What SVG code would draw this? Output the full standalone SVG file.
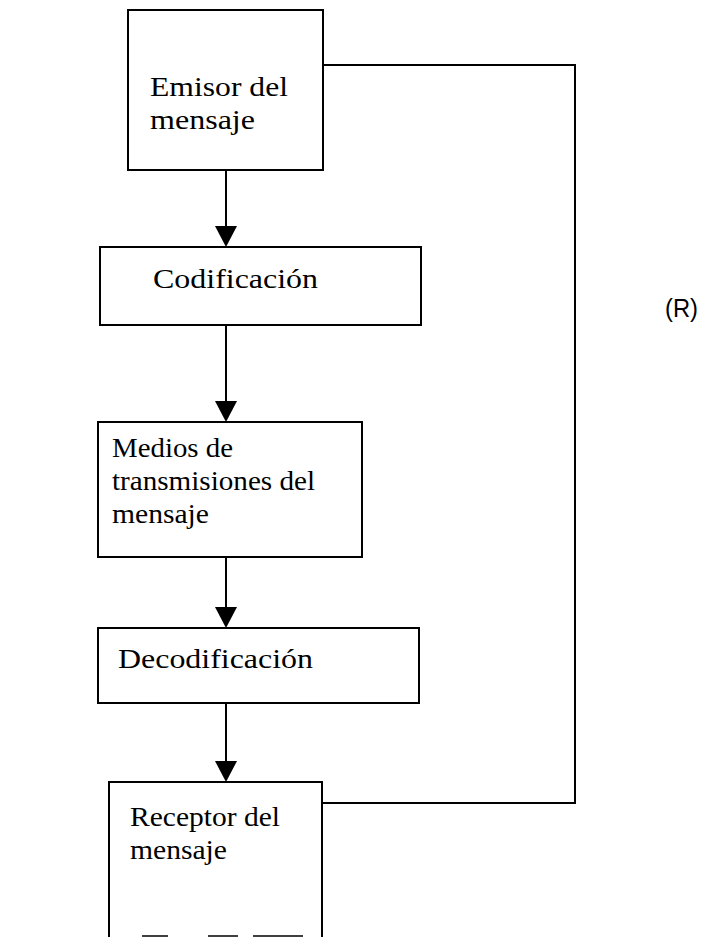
<svg xmlns="http://www.w3.org/2000/svg" width="704" height="937" viewBox="0 0 704 937">
<defs>
<style>
.box{fill:#fff;stroke:#000;stroke-width:2}
.t{font-family:"Liberation Serif","Times New Roman",serif;font-size:28px;fill:#000}
.c{fill:none;stroke:#000;stroke-width:2}
.h{fill:#000;stroke:none}
</style>
</defs>
<rect width="704" height="937" fill="#fff"/>
<g id="connectors">
<line class="c" x1="226" y1="170" x2="226" y2="230"/>
<path class="h" d="M215,226 L237,226 L226,247 Z"/>
<line class="c" x1="226" y1="325" x2="226" y2="405"/>
<path class="h" d="M215,401 L237,401 L226,422 Z"/>
<line class="c" x1="226" y1="557" x2="226" y2="610"/>
<path class="h" d="M215,607 L237,607 L226,628 Z"/>
<line class="c" x1="226" y1="703" x2="226" y2="765"/>
<path class="h" d="M215,761 L237,761 L226,782 Z"/>
<polyline class="c" points="323,65 575,65 575,803 322,803"/>
</g>
<g id="emisor">
<rect class="box" x="128" y="10" width="195" height="160"/>
<text class="t" x="150" y="96" textLength="138" lengthAdjust="spacingAndGlyphs">Emisor del</text>
<text class="t" x="150" y="129" textLength="105" lengthAdjust="spacingAndGlyphs">mensaje</text>
</g>
<g id="codificacion">
<rect class="box" x="100" y="247" width="321" height="78"/>
<text class="t" x="153" y="288" textLength="165" lengthAdjust="spacingAndGlyphs">Codificación</text>
</g>
<g id="medios">
<rect class="box" x="98" y="422" width="264" height="135"/>
<text class="t" x="112" y="457" textLength="121" lengthAdjust="spacingAndGlyphs">Medios de</text>
<text class="t" x="112" y="490" textLength="203" lengthAdjust="spacingAndGlyphs">transmisiones del</text>
<text class="t" x="112" y="523" textLength="97" lengthAdjust="spacingAndGlyphs">mensaje</text>
</g>
<g id="decodificacion">
<rect class="box" x="98" y="628" width="321" height="75"/>
<text class="t" x="118" y="668" textLength="195" lengthAdjust="spacingAndGlyphs">Decodificación</text>
</g>
<g id="receptor">
<path class="c" d="M109,937 L109,782 L322,782 L322,937"/>
<path d="M142,936 L168,936 M208,936 L238,936 M253,936 L303,936" stroke="#000" stroke-width="1.5" fill="none"/>
<text class="t" x="130" y="826" textLength="150" lengthAdjust="spacingAndGlyphs">Receptor del</text>
<text class="t" x="130" y="859" textLength="97" lengthAdjust="spacingAndGlyphs">mensaje</text>
</g>
<g id="label-r">
<text x="665" y="317" font-family="'Liberation Sans',Arial,sans-serif" font-size="25" fill="#000" textLength="33" lengthAdjust="spacingAndGlyphs">(R)</text>
</g>
</svg>
